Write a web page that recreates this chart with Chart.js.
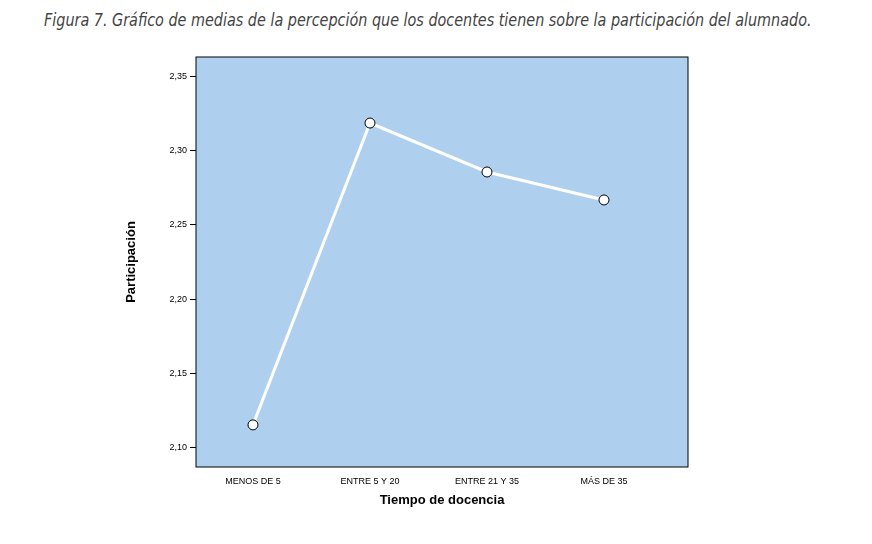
<!DOCTYPE html>
<html>
<head>
<meta charset="utf-8">
<script src="https://cdn.jsdelivr.net/npm/chart.js@4"></script>
<style>
  body { margin: 0; background: #fff; }
  #title { position: absolute; left: 44px; top: 10px; font-family: "Liberation Sans Narrow", "DejaVu Sans Condensed", sans-serif; font-style: italic; font-size: 17px; color: #444; white-space: nowrap; transform: scaleX(0.94); transform-origin: left top; }
  #wrap { position: absolute; left: 0; top: 0; width: 872px; height: 544px; }
</style>
</head>
<body>
<div id="title">Figura 7. Gráfico de medias de la percepción que los docentes tienen sobre la participación del alumnado.</div>
<div id="wrap"><canvas id="chart"></canvas></div>
<script>
const categories = ["MENOS DE 5", "ENTRE 5 Y 20", "ENTRE 21 Y 35", "MÁS DE 35"];
const means = [2.1155, 2.3184, 2.2855, 2.2667];
const yTicks = [2.10, 2.15, 2.20, 2.25, 2.30, 2.35];

const plotBg = {
    id: "plotBg",
    beforeDraw(chart) {
        const { ctx, chartArea: a } = chart;
        ctx.save();
        ctx.fillStyle = "#aed0ee";
        ctx.fillRect(a.left, a.top, a.width, a.height);
        ctx.strokeStyle = "#000";
        ctx.lineWidth = 1;
        ctx.strokeRect(a.left, a.top, a.width, a.height);
        ctx.restore();
    }
};

new Chart(document.getElementById("chart"), {
    type: "line",
    data: {
        datasets: [{
            data: means.map((v, i) => ({ x: i, y: v })),
            borderColor: "#ffffff",
            borderWidth: 3,
            pointBackgroundColor: "#ffffff",
            pointBorderColor: "#000",
            pointBorderWidth: 1,
            pointRadius: 5,
            tension: 0
        }]
    },
    options: {
        responsive: true,
        maintainAspectRatio: false,
        animation: false,
        layout: { padding: { left: 120, top: 57, right: 184, bottom: 32 } },
        plugins: { legend: { display: false }, tooltip: { enabled: false } },
        scales: {
            x: {
                type: "linear",
                min: -0.487,
                max: 3.718,
                afterBuildTicks: s => { s.ticks = categories.map((c, i) => ({ value: i })); },
                afterFit: s => { s.height = 45; },
                ticks: { callback: v => categories[v], color: "#000", font: { family: "Liberation Sans", size: 9 }, maxRotation: 0, padding: 9 },
                grid: { drawOnChartArea: false, tickLength: 0, color: "#000" },
                border: { display: false },
                title: { display: true, text: "Tiempo de docencia", color: "#000", font: { family: "Liberation Sans", size: 13, weight: "bold" }, padding: { top: 0 } }
            },
            y: {
                min: 2.0872,
                max: 2.3628,
                afterBuildTicks: s => { s.ticks = yTicks.map(v => ({ value: v })); },
                afterFit: s => { s.width = 76; },
                ticks: { callback: v => v.toFixed(2).replace(".", ","), color: "#000", font: { family: "Liberation Sans", size: 9 }, padding: 3 },
                grid: { drawOnChartArea: false, tickLength: 6, color: "#000" },
                border: { display: false },
                title: { display: true, text: "Participación", color: "#000", font: { family: "Liberation Sans", size: 13, weight: "bold" }, padding: { bottom: 18 } }
            }
        }
    },
    plugins: [plotBg]
});
</script>
</body>
</html>
